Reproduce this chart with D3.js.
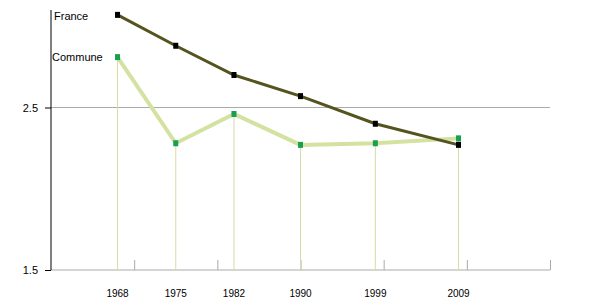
<!DOCTYPE html>
<html>
<head>
<meta charset="utf-8">
<script src="https://cdn.jsdelivr.net/npm/d3@7/dist/d3.min.js"></script>
<style>
  body { margin: 0; background: #fff; }
  text { font-family: "Liberation Sans", Arial, sans-serif; }
</style>
</head>
<body>
<script>
var years = [1968, 1975, 1982, 1990, 1999, 2009];
var france = [3.07, 2.88, 2.70, 2.57, 2.40, 2.27];
var commune = [2.81, 2.28, 2.46, 2.27, 2.28, 2.31];
var yTicks = [1.5, 2.5];
var decadeTicks = [1970, 1980, 1990, 2000, 2010, 2020];

var svg = d3.select("body").append("svg")
  .attr("width", 600)
  .attr("height", 300);

var x = d3.scaleLinear().domain([1960, 2020]).range([51, 550]);
var y = d3.scaleLinear().domain([1.5, 3.1]).range([270, 10]);

// grid line at 2.5
svg.append("line")
  .attr("x1", x(1960)).attr("x2", x(2020))
  .attr("y1", y(2.5)).attr("y2", y(2.5))
  .attr("stroke", "#aaa").attr("stroke-width", 1);

// bottom axis, ticks point up
var xAxis = svg.append("g")
  .attr("transform", "translate(0," + y(1.5) + ")")
  .call(d3.axisTop(x).tickValues(decadeTicks).tickSize(10).tickFormat(""));
xAxis.select(".domain").attr("stroke", "#aaa").attr("d", "M" + x(1960) + ",0H" + x(2020));
xAxis.selectAll(".tick line").attr("stroke", "#aaa");

// year labels under the points
svg.selectAll(".year")
  .data(years)
  .enter().append("text")
  .attr("class", "year")
  .attr("x", function (d) { return x(d); })
  .attr("y", 297)
  .attr("text-anchor", "middle")
  .attr("font-size", 10)
  .attr("fill", "#000")
  .text(function (d) { return d; });

// y axis
var yAxis = svg.append("g")
  .attr("transform", "translate(" + x(1960) + ",0)")
  .call(d3.axisLeft(y).tickValues(yTicks).tickSize(6).tickPadding(7).tickFormat(d3.format(".1f")));
yAxis.select(".domain").attr("stroke", "#000").attr("d", "M0," + y(3.1) + "V" + y(1.5));
yAxis.selectAll(".tick line").attr("stroke", "#000");
yAxis.selectAll(".tick text").attr("font-size", 11).attr("font-family", "Liberation Sans, Arial, sans-serif").attr("fill", "#000");

// drop lines from commune points
svg.selectAll(".drop")
  .data(years)
  .enter().append("line")
  .attr("x1", function (d) { return x(d); })
  .attr("x2", function (d) { return x(d); })
  .attr("y1", function (d, i) { return y(commune[i]); })
  .attr("y2", y(1.5))
  .attr("stroke", "#d6dca6").attr("stroke-width", 1);

var line = d3.line()
  .x(function (d, i) { return x(years[i]); })
  .y(function (d) { return y(d); });

svg.append("path")
  .datum(commune)
  .attr("d", line)
  .attr("fill", "none")
  .attr("stroke", "#d3e2a0")
  .attr("stroke-width", 4);

svg.append("path")
  .datum(france)
  .attr("d", line)
  .attr("fill", "none")
  .attr("stroke", "#55541f")
  .attr("stroke-width", 3);

svg.selectAll(".mc")
  .data(commune)
  .enter().append("rect")
  .attr("x", function (d, i) { return x(years[i]) - 2.5; })
  .attr("y", function (d) { return y(d) - 3; })
  .attr("width", 5).attr("height", 6)
  .attr("fill", "#16a050");

svg.selectAll(".mf")
  .data(france)
  .enter().append("rect")
  .attr("x", function (d, i) { return x(years[i]) - 2.5; })
  .attr("y", function (d) { return y(d) - 3; })
  .attr("width", 5).attr("height", 6)
  .attr("fill", "#000");

// series labels
svg.append("text").attr("x", 54).attr("y", 20).attr("font-size", 11).text("France");
svg.append("text").attr("x", 52).attr("y", 61).attr("font-size", 11).text("Commune");
</script>
</body>
</html>
